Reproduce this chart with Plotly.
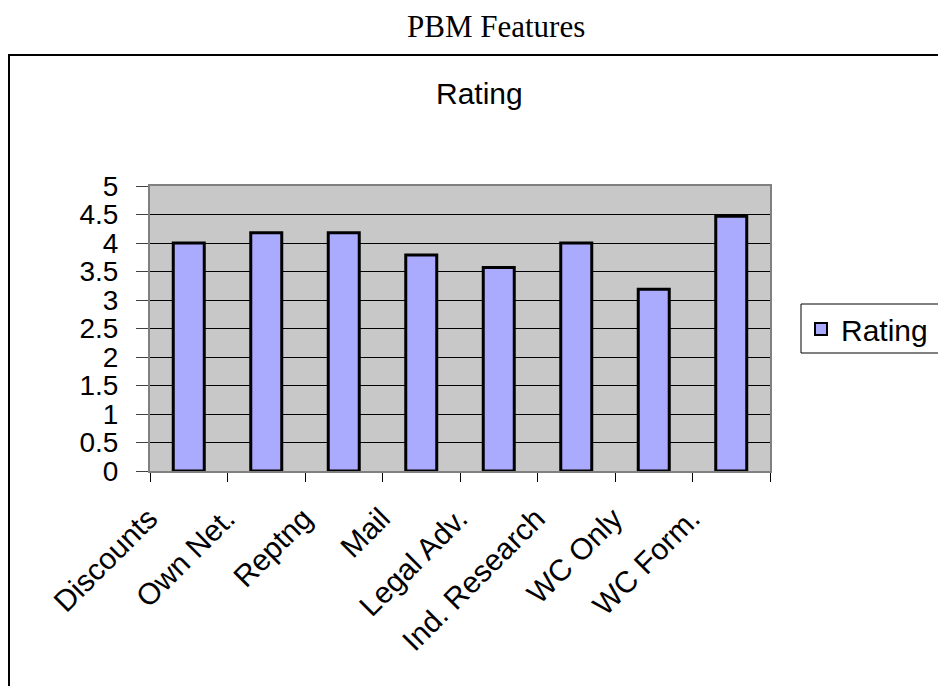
import plotly.graph_objects as go

categories = ["Discounts", "Own Net.", "Reptng", "Mail", "Legal Adv.",
              "Ind. Research", "WC Only", "WC Form."]
ratings = [4.0, 4.18, 4.18, 3.79, 3.57, 4.0, 3.19, 4.47]
y_tick_vals = [0, 0.5, 1, 1.5, 2, 2.5, 3, 3.5, 4, 4.5, 5]
y_tick_text = ["0", "0.5", "1", "1.5", "2", "2.5", "3", "3.5", "4", "4.5", "5"]

# page body has an 8px margin; work in screen coordinates and convert
OFF = 8
W, H = 946 - OFF, 686 - OFF
L, R, T, B = 150 - OFF, 770 - OFF, 186 - OFF, 471 - OFF

def px_x(px):
    return (px - OFF - L) / (R - L)

def px_y(py):
    return (B - (py - OFF)) / (B - T)

SANS = "Arial, Liberation Sans, sans-serif"
SERIF = "Times New Roman, Liberation Serif, serif"

fig = go.Figure()
fig.add_trace(go.Bar(
    x=categories, y=ratings, name="Rating", width=0.4,
    marker=dict(color="#AAAAFF", line=dict(color="black", width=3)),
))

fig.update_layout(
    width=W, height=H,
    margin=dict(l=L, r=W - R, t=T, b=H - B, pad=0),
    paper_bgcolor="white",
    plot_bgcolor="#C8C8C8",
    showlegend=True,
    legend=dict(
        x=px_x(801), y=px_y(329), xanchor="left", yanchor="middle",
        borderwidth=0, bgcolor="rgba(0,0,0,0)",
        font=dict(family=SANS, size=30, color="black"),
        itemsizing="constant",
    ),
    font=dict(family=SANS, color="black"),
)

fig.update_xaxes(
    type="category",
    tickangle=-45,
    tickfont=dict(family=SANS, size=30, color="black"),
    ticks="outside", tickson="boundaries", ticklen=9, tickcolor="black",
    ticklabelshift=-40, ticklabelstandoff=16,
    showline=True, linecolor="#808080", linewidth=2, mirror=True,
    showgrid=False,
)
fig.update_yaxes(
    range=[0, 5],
    tickvals=y_tick_vals, ticktext=y_tick_text,
    tickfont=dict(family=SANS, size=28, color="black"),
    ticks="outside", ticklen=12, tickcolor="#404040",
    ticklabelstandoff=12,
    showline=True, linecolor="#808080", linewidth=2, mirror=True,
    showgrid=True, gridcolor="black", gridwidth=1,
    zeroline=False,
)

# outer chart border
fig.add_shape(type="rect", xref="paper", yref="paper",
              x0=px_x(9), x1=px_x(990), y0=px_y(730), y1=px_y(55),
              line=dict(color="black", width=2), layer="below")
# legend frame (runs off the right edge, as in the original)
fig.add_shape(type="rect", xref="paper", yref="paper",
              x0=px_x(801), x1=px_x(990), y0=px_y(353), y1=px_y(304),
              line=dict(color="black", width=1), layer="below")

fig.add_annotation(text="PBM Features", xref="paper", yref="paper",
                   x=px_x(496), y=px_y(26), xanchor="center", yanchor="middle",
                   showarrow=False, font=dict(family=SERIF, size=31, color="black"))
fig.add_annotation(text="Rating", xref="paper", yref="paper",
                   x=px_x(479), y=px_y(93), xanchor="center", yanchor="middle",
                   showarrow=False, font=dict(family=SANS, size=30, color="black"))

fig.write_html("out.html")
